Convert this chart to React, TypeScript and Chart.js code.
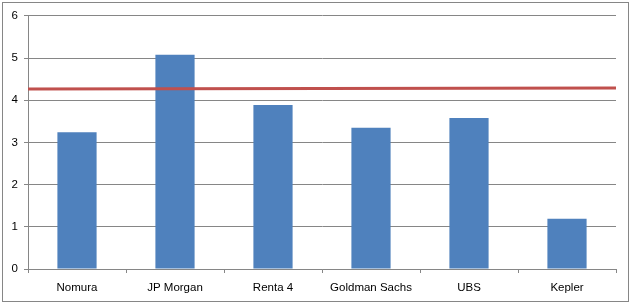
import React, { useEffect, useRef } from "react";
import { Chart, registerables } from "chart.js";

Chart.register(...registerables);

const categories = ["Nomura", "JP Morgan", "Renta 4", "Goldman Sachs", "UBS", "Kepler"];
const barValues = [3.24, 5.08, 3.89, 3.35, 3.58, 1.19];
const averageLine = [
  { x: 0, y: 4.27 },
  { x: 1, y: 4.29 },
];
const yTicks = [0, 1, 2, 3, 4, 5, 6];

export default function App() {
  const ref = useRef<HTMLCanvasElement | null>(null);

  useEffect(() => {
    document.body.style.margin = "0";
    const ctx = ref.current;
    if (!ctx) return;
    const font = { family: "'Liberation Sans', Arial, sans-serif", size: 11.5 };
    const chart = new Chart(ctx, {
      type: "bar",
      data: {
        labels: categories,
        datasets: [
          {
            type: "bar",
            data: barValues,
            backgroundColor: "#4F81BD",
            borderWidth: 0,
            categoryPercentage: 1,
            barPercentage: 0.4,
            grouped: false,
            xAxisID: "x",
            yAxisID: "y",
            order: 2,
          } as any,
          {
            type: "line",
            data: averageLine,
            borderColor: "#C0504D",
            borderWidth: 3,
            pointRadius: 0,
            fill: false,
            xAxisID: "x2",
            yAxisID: "y",
            order: 1,
          } as any,
        ],
      },
      options: {
        animation: false,
        responsive: false,
        maintainAspectRatio: false,
        layout: { padding: { left: 0, right: 12, top: 12, bottom: 0 } },
        plugins: { legend: { display: false }, tooltip: { enabled: false } },
        scales: {
          x: {
            type: "category",
            offset: true,
            grid: {
              offset: true,
              drawOnChartArea: false,
              drawTicks: true,
              tickLength: 4,
              color: "#868686",
            },
            border: { color: "#868686", width: 1 },
            ticks: { color: "#000", font, padding: 8, maxRotation: 0, autoSkip: false },
            afterFit: (s: any) => {
              s.height = 32;
            },
          },
          x2: {
            type: "linear",
            display: false,
            offset: false,
            grid: { offset: false },
            min: 0,
            max: 1,
          },
          y: {
            min: 0,
            max: 6,
            afterBuildTicks: (s: any) => {
              s.ticks = yTicks.map((v) => ({ value: v }));
            },
            grid: {
              color: "#868686",
              drawTicks: true,
              tickLength: 4,
            },
            border: { color: "#868686", width: 1 },
            ticks: { color: "#000", font, padding: 6 },
            afterFit: (s: any) => {
              s.width = 25;
            },
          },
        },
      },
    });
    return () => chart.destroy();
  }, []);

  return (
    <div
      style={{
        position: "absolute",
        left: 2,
        top: 2,
        width: 627,
        height: 300,
        border: "1px solid #868686",
        boxSizing: "border-box",
        background: "#fff",
      }}
    >
      <canvas ref={ref} width={625} height={298} style={{ display: "block" }} />
    </div>
  );
}
